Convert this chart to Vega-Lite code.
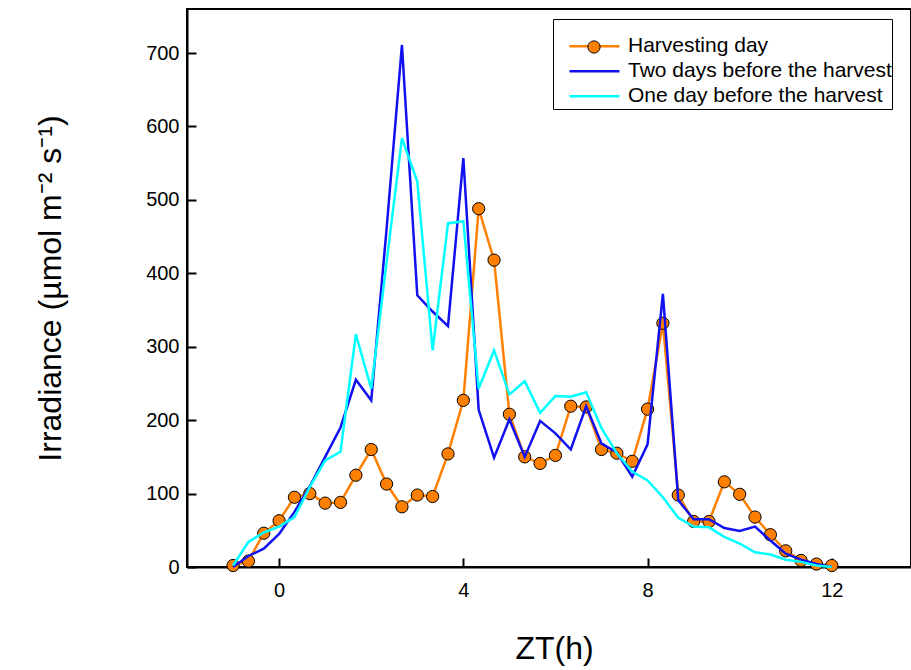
{
  "$schema": "https://vega.github.io/schema/vega-lite/v6.json",
  "width": 724,
  "height": 558,
  "autosize": {"type": "none"},
  "padding": {"left": 187, "top": 9, "right": 0, "bottom": 103},
  "background": "white",
  "config": {"view": {"stroke": "black", "strokeWidth": 2}, "font": "Liberation Sans"},
  "data": {"values": [
    {"t": -1, "s": "Harvesting day", "v": 2}, {"t": -0.667, "s": "Harvesting day", "v": 8}, {"t": -0.333, "s": "Harvesting day", "v": 46}, {"t": 0, "s": "Harvesting day", "v": 63},
    {"t": 0.333, "s": "Harvesting day", "v": 95}, {"t": 0.667, "s": "Harvesting day", "v": 100}, {"t": 1, "s": "Harvesting day", "v": 87}, {"t": 1.333, "s": "Harvesting day", "v": 88},
    {"t": 1.667, "s": "Harvesting day", "v": 125}, {"t": 2, "s": "Harvesting day", "v": 160}, {"t": 2.333, "s": "Harvesting day", "v": 113}, {"t": 2.667, "s": "Harvesting day", "v": 82},
    {"t": 3, "s": "Harvesting day", "v": 98}, {"t": 3.333, "s": "Harvesting day", "v": 96}, {"t": 3.667, "s": "Harvesting day", "v": 154}, {"t": 4, "s": "Harvesting day", "v": 227},
    {"t": 4.333, "s": "Harvesting day", "v": 488}, {"t": 4.667, "s": "Harvesting day", "v": 418}, {"t": 5, "s": "Harvesting day", "v": 208}, {"t": 5.333, "s": "Harvesting day", "v": 150},
    {"t": 5.667, "s": "Harvesting day", "v": 141}, {"t": 6, "s": "Harvesting day", "v": 152}, {"t": 6.333, "s": "Harvesting day", "v": 219}, {"t": 6.667, "s": "Harvesting day", "v": 218},
    {"t": 7, "s": "Harvesting day", "v": 160}, {"t": 7.333, "s": "Harvesting day", "v": 155}, {"t": 7.667, "s": "Harvesting day", "v": 144}, {"t": 8, "s": "Harvesting day", "v": 215},
    {"t": 8.333, "s": "Harvesting day", "v": 332}, {"t": 8.667, "s": "Harvesting day", "v": 98}, {"t": 9, "s": "Harvesting day", "v": 62}, {"t": 9.333, "s": "Harvesting day", "v": 62},
    {"t": 9.667, "s": "Harvesting day", "v": 116}, {"t": 10, "s": "Harvesting day", "v": 99}, {"t": 10.333, "s": "Harvesting day", "v": 68}, {"t": 10.667, "s": "Harvesting day", "v": 44},
    {"t": 11, "s": "Harvesting day", "v": 22}, {"t": 11.333, "s": "Harvesting day", "v": 9}, {"t": 11.667, "s": "Harvesting day", "v": 4}, {"t": 12, "s": "Harvesting day", "v": 2},

    {"t": -1, "s": "Two days before the harvest", "v": 0}, {"t": -0.667, "s": "Two days before the harvest", "v": 15}, {"t": -0.333, "s": "Two days before the harvest", "v": 25}, {"t": 0, "s": "Two days before the harvest", "v": 45},
    {"t": 0.333, "s": "Two days before the harvest", "v": 75}, {"t": 0.667, "s": "Two days before the harvest", "v": 110}, {"t": 1, "s": "Two days before the harvest", "v": 150}, {"t": 1.333, "s": "Two days before the harvest", "v": 190},
    {"t": 1.667, "s": "Two days before the harvest", "v": 255}, {"t": 2, "s": "Two days before the harvest", "v": 227}, {"t": 2.333, "s": "Two days before the harvest", "v": 460}, {"t": 2.667, "s": "Two days before the harvest", "v": 711},
    {"t": 3, "s": "Two days before the harvest", "v": 370}, {"t": 3.333, "s": "Two days before the harvest", "v": 348}, {"t": 3.667, "s": "Two days before the harvest", "v": 328}, {"t": 4, "s": "Two days before the harvest", "v": 557},
    {"t": 4.333, "s": "Two days before the harvest", "v": 214}, {"t": 4.667, "s": "Two days before the harvest", "v": 149}, {"t": 5, "s": "Two days before the harvest", "v": 201}, {"t": 5.333, "s": "Two days before the harvest", "v": 150},
    {"t": 5.667, "s": "Two days before the harvest", "v": 199}, {"t": 6, "s": "Two days before the harvest", "v": 182}, {"t": 6.333, "s": "Two days before the harvest", "v": 160}, {"t": 6.667, "s": "Two days before the harvest", "v": 219},
    {"t": 7, "s": "Two days before the harvest", "v": 168}, {"t": 7.333, "s": "Two days before the harvest", "v": 156}, {"t": 7.667, "s": "Two days before the harvest", "v": 123}, {"t": 8, "s": "Two days before the harvest", "v": 167},
    {"t": 8.333, "s": "Two days before the harvest", "v": 372}, {"t": 8.667, "s": "Two days before the harvest", "v": 91}, {"t": 9, "s": "Two days before the harvest", "v": 65}, {"t": 9.333, "s": "Two days before the harvest", "v": 65},
    {"t": 9.667, "s": "Two days before the harvest", "v": 53}, {"t": 10, "s": "Two days before the harvest", "v": 49}, {"t": 10.333, "s": "Two days before the harvest", "v": 55}, {"t": 10.667, "s": "Two days before the harvest", "v": 36},
    {"t": 11, "s": "Two days before the harvest", "v": 18}, {"t": 11.333, "s": "Two days before the harvest", "v": 10}, {"t": 11.667, "s": "Two days before the harvest", "v": 4}, {"t": 12, "s": "Two days before the harvest", "v": 0},

    {"t": -1, "s": "One day before the harvest", "v": 2}, {"t": -0.667, "s": "One day before the harvest", "v": 34}, {"t": -0.333, "s": "One day before the harvest", "v": 47}, {"t": 0, "s": "One day before the harvest", "v": 55},
    {"t": 0.333, "s": "One day before the harvest", "v": 68}, {"t": 0.667, "s": "One day before the harvest", "v": 109}, {"t": 1, "s": "One day before the harvest", "v": 145}, {"t": 1.333, "s": "One day before the harvest", "v": 157},
    {"t": 1.667, "s": "One day before the harvest", "v": 317}, {"t": 2, "s": "One day before the harvest", "v": 243}, {"t": 2.333, "s": "One day before the harvest", "v": 415}, {"t": 2.667, "s": "One day before the harvest", "v": 584},
    {"t": 3, "s": "One day before the harvest", "v": 525}, {"t": 3.333, "s": "One day before the harvest", "v": 295}, {"t": 3.667, "s": "One day before the harvest", "v": 468}, {"t": 4, "s": "One day before the harvest", "v": 471},
    {"t": 4.333, "s": "One day before the harvest", "v": 243}, {"t": 4.667, "s": "One day before the harvest", "v": 295}, {"t": 5, "s": "One day before the harvest", "v": 235}, {"t": 5.333, "s": "One day before the harvest", "v": 253},
    {"t": 5.667, "s": "One day before the harvest", "v": 210}, {"t": 6, "s": "One day before the harvest", "v": 233}, {"t": 6.333, "s": "One day before the harvest", "v": 232}, {"t": 6.667, "s": "One day before the harvest", "v": 238},
    {"t": 7, "s": "One day before the harvest", "v": 189}, {"t": 7.333, "s": "One day before the harvest", "v": 155}, {"t": 7.667, "s": "One day before the harvest", "v": 130}, {"t": 8, "s": "One day before the harvest", "v": 118},
    {"t": 8.333, "s": "One day before the harvest", "v": 95}, {"t": 8.667, "s": "One day before the harvest", "v": 67}, {"t": 9, "s": "One day before the harvest", "v": 55}, {"t": 9.333, "s": "One day before the harvest", "v": 54},
    {"t": 9.667, "s": "One day before the harvest", "v": 41}, {"t": 10, "s": "One day before the harvest", "v": 32}, {"t": 10.333, "s": "One day before the harvest", "v": 20}, {"t": 10.667, "s": "One day before the harvest", "v": 17},
    {"t": 11, "s": "One day before the harvest", "v": 10}, {"t": 11.333, "s": "One day before the harvest", "v": 7}, {"t": 11.667, "s": "One day before the harvest", "v": 2}, {"t": 12, "s": "One day before the harvest", "v": 0}
  ]},
  "encoding": {
    "x": {
      "field": "t", "type": "quantitative",
      "scale": {"domain": [-2, 13.72], "nice": false, "zero": false},
      "axis": {
        "values": [0, 4, 8, 12], "grid": false, "title": "ZT(h)",
        "titleFontSize": 32, "titleFontWeight": "normal", "titleColor": "black",
        "titleX": 367, "titleY": 91, "titleBaseline": "alphabetic", "titleAlign": "center",
        "labelFontSize": 20, "labelColor": "black", "labelFlush": false, "labelPadding": 22,
        "tickSize": -9, "tickWidth": 2, "tickColor": "black",
        "domainColor": "black", "domainWidth": 2
      }
    },
    "y": {
      "field": "v", "type": "quantitative",
      "scale": {"domain": [0, 760], "nice": false, "zero": true},
      "axis": {
        "values": [0, 100, 200, 300, 400, 500, 600, 700], "grid": false,
        "title": "Irradiance (µmol m⁻² s⁻¹)",
        "titleFontSize": 32, "titleFontWeight": "normal", "titleColor": "black",
        "titleX": -127, "titleY": 279, "titleBaseline": "alphabetic", "titleAlign": "center", "titleAngle": -90,
        "labelFontSize": 20, "labelColor": "black", "labelFlush": false, "labelPadding": 17,
        "tickSize": -9, "tickWidth": 2, "tickColor": "black",
        "domainColor": "black", "domainWidth": 2
      }
    }
  },
  "layer": [
    {
      "transform": [{"filter": "datum.s === 'Harvesting day'"}],
      "mark": {"type": "line", "strokeWidth": 2.5},
      "encoding": {
        "color": {
          "field": "s", "type": "nominal",
          "scale": {"domain": ["Harvesting day", "Two days before the harvest", "One day before the harvest"], "range": ["#FF8000", "#1010F0", "#00FFFF"]},
          "legend": {
            "orient": "none", "legendX": 366, "legendY": 10,
            "title": "\u2003\u2003\u2003\u2003\u2003\u2003\u2003\u2003\u2003\u2003\u2003\u2003\u2003\u2003\u2003\u2003\u2003\u2003\u2003\u2003\u2003\u2003\u2003\u2003\u2003\u2003\u2003\u2003\u2003\u2003\u2003\u2003\u2003\u2003\u2003",
            "titleFontSize": 10.14, "titlePadding": 4.5, "titleLimit": 500,
            "symbolType": "M-2.5,0H2.5", "symbolSize": 400, "symbolStrokeWidth": 2.5, "symbolOffset": 30,
            "labelFontSize": 21, "labelColor": "black", "labelFont": "Liberation Sans", "labelLimit": 500,
            "labelExpr": "datum.label + '\u2007\u2009'",
            "labelOffset": 22, "padding": 0, "rowPadding": 0, "clipHeight": 25,
            "strokeColor": "black", "fillColor": "white"
          }
        }
      }
    },
    {
      "transform": [{"filter": "datum.s === 'Harvesting day'"}],
      "mark": {"type": "point", "filled": true, "stroke": "black", "strokeWidth": 1, "size": 150, "opacity": 1},
      "encoding": {
        "fill": {
          "field": "s", "type": "nominal",
          "scale": {"domain": ["Harvesting day"], "range": ["#FF8000"]},
          "legend": {
            "orient": "none", "legendX": 400, "legendY": 31, "title": null,
            "symbolType": "circle", "symbolSize": 150, "symbolStrokeColor": "black", "symbolStrokeWidth": 1,
            "labelOpacity": 0, "labelFontSize": 1, "padding": 0
          }
        }
      }
    },
    {
      "transform": [{"filter": "datum.s === 'Two days before the harvest'"}],
      "mark": {"type": "line", "strokeWidth": 2.5},
      "encoding": {"color": {"field": "s", "type": "nominal"}}
    },
    {
      "transform": [{"filter": "datum.s === 'One day before the harvest'"}],
      "mark": {"type": "line", "strokeWidth": 2.5},
      "encoding": {"color": {"field": "s", "type": "nominal"}}
    }
  ]
}
